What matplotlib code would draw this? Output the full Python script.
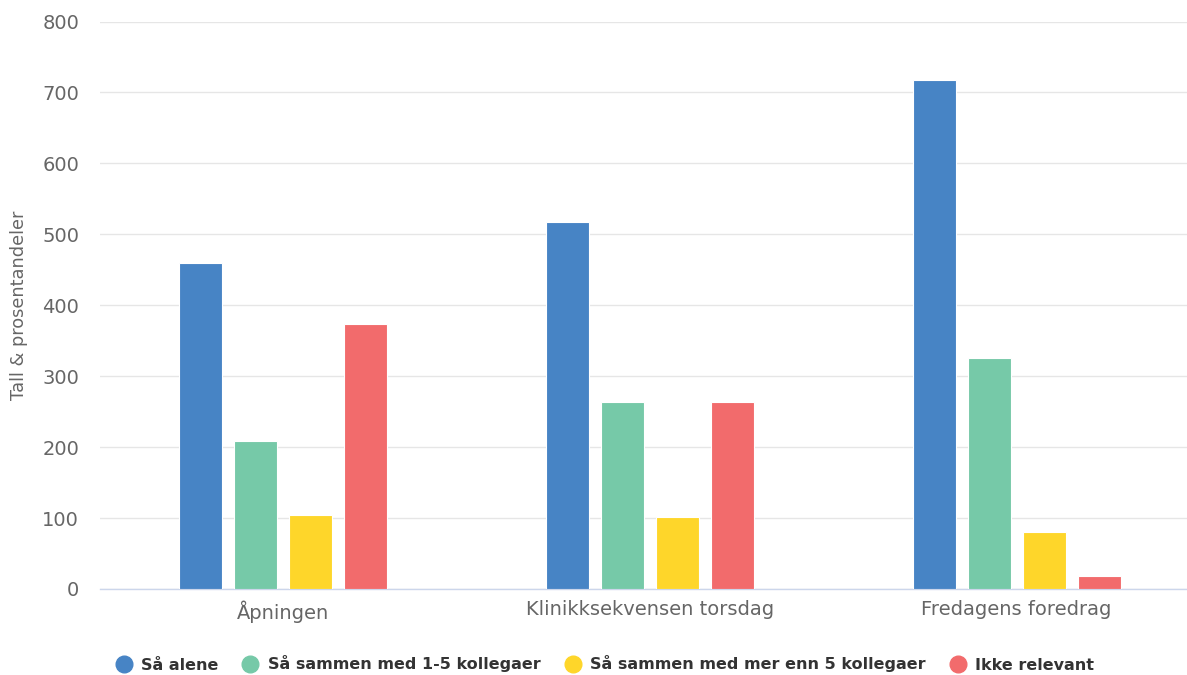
import matplotlib
matplotlib.use("Agg")
import matplotlib.pyplot as plt
from matplotlib.lines import Line2D
import numpy as np

categories = ["Åpningen", "Klinikksekvensen torsdag", "Fredagens foredrag"]
series_names = ["Så alene", "Så sammen med 1-5 kollegaer",
                "Så sammen med mer enn 5 kollegaer", "Ikke relevant"]
sa_alene = [459, 518, 718]
med_1_5 = [208, 264, 325]
mer_enn_5 = [105, 101, 81]
ikke_relevant = [374, 264, 19]
colors = ["#4784c5", "#76c9a8", "#fed62a", "#f26b6c"]
yticks = [0, 100, 200, 300, 400, 500, 600, 700, 800]

plt.rcParams['font.family'] = ['DejaVu Sans']
fig = plt.figure(figsize=(11.87, 6.75), dpi=100)
W, H = 1187, 675
ax = fig.add_axes([100 / W, (H - 589) / H, 1100 / W, (589 - 21.5) / H])

values = [sa_alene, med_1_5, mer_enn_5, ikke_relevant]
x = np.arange(len(categories))
pitch = 0.15
width = 0.118
for i, (vals, c) in enumerate(zip(values, colors)):
    ax.bar(x + (i - 1.5) * pitch, vals, width=width, color=c,
           edgecolor="white", linewidth=0.8, zorder=3)

ax.set_xlim(-0.5, 2.5)
ax.set_ylim(0, 800)
ax.set_yticks(yticks)
ax.set_yticklabels([str(v) for v in yticks])
ax.set_xticks(x)
ax.set_xticklabels(categories)
ax.grid(axis="y", color="#e6e6e6", linewidth=1, zorder=0)
for s in ["top", "right", "left"]:
    ax.spines[s].set_visible(False)
ax.spines["bottom"].set_color("#ccd6eb")
ax.spines["bottom"].set_linewidth(1)
ax.tick_params(axis="y", length=0, pad=15, labelsize=14, labelcolor="#666666")
ax.tick_params(axis="x", length=0, pad=8, labelsize=14, labelcolor="#666666")
ax.set_ylabel("Tall & prosentandeler", fontsize=12.8, color="#666666")
ax.yaxis.set_label_coords(-(100 - 28) / 1100, 0.5)

handles = [Line2D([0], [0], marker="o", linestyle="none", markersize=12,
                  markerfacecolor=c, markeredgecolor=c) for c in colors]
fig.legend(handles, series_names, loc="center", bbox_to_anchor=(605 / W, (H - 664) / H),
           ncol=4, frameon=False, handlelength=1.0, handletextpad=0.6, columnspacing=1.5,
           prop={"weight": "bold", "size": 11.5}, labelcolor="#333333")

fig.savefig("out.png", dpi=100)
